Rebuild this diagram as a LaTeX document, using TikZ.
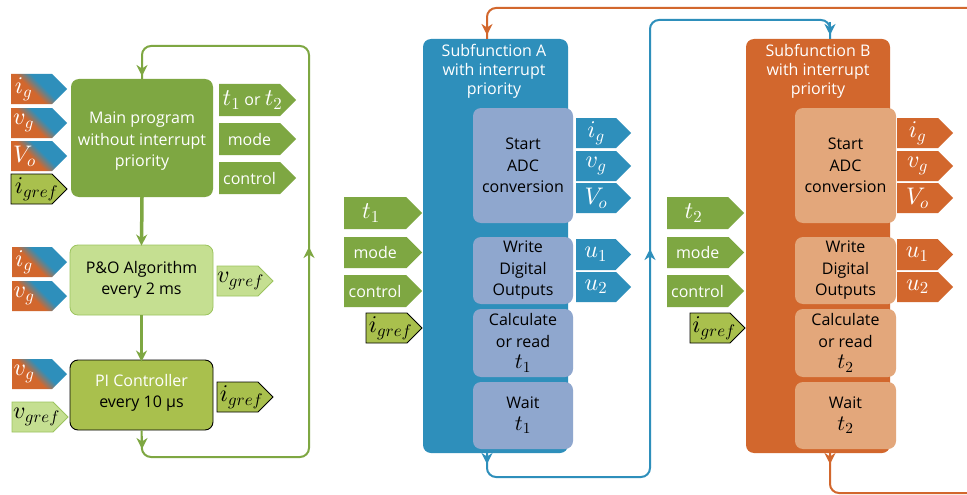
\documentclass[tikz,border=0pt]{standalone}
\usepackage[no-math]{fontspec}
\setmainfont{Open Sans}
\DeclareFontShape{OML}{cmm}{m}{it}{<-> cmmi10}{\skewchar\font'177}
\DeclareFontShape{OT1}{cmr}{m}{n}{<-> cmr10}{}
\DeclareFontShape{OMS}{cmsy}{m}{n}{<-> cmsy10}{\skewchar\font'060}
\usetikzlibrary{arrows.meta}
\definecolor{cgreen}{HTML}{7EA742}
\definecolor{clight}{HTML}{C5DF91}
\definecolor{clightb}{HTML}{9CC45E}
\definecolor{colive}{HTML}{A9C04D}
\definecolor{cblue}{HTML}{2E8FBB}
\definecolor{cperi}{HTML}{8FA7CE}
\definecolor{corange}{HTML}{D2672D}
\definecolor{clorange}{HTML}{E3A77B}
\pgfdeclarehorizontalshading{ogb}{100bp}{color(0bp)=(corange); color(45bp)=(corange); color(54bp)=(cblue); color(100bp)=(cblue)}
% #1 name, #2 x, #3 y, #4 w, #5 h, #6 shape style, #7 text style, #8 x offset, #9 text
\newcommand\mytag[9]{%
  \path[#6] (#2,#3) -- ({#2+#4-#5/2},#3) -- ({#2+#4},{#3+#5/2}) -- ({#2+#4-#5/2},{#3+#5}) -- (#2,{#3+#5}) -- cycle;
  \node[tagtext,#7] (#1) at ({#2+(#4-#5/2)/2+#8},{#3+#5/2}) {#9};
}
\tikzset{
  tagtext/.style={inner sep=0pt, text=white, font=\fontsize{16}{19}\selectfont},
  tmath/.style={font=\fontsize{24}{26}\selectfont},
  gradtag/.style={path picture={\shade[shading=ogb, shading angle=45] ([shift={(-30pt,-30pt)}]path picture bounding box.center) rectangle ++(60pt,60pt);}},
  greentag/.style={fill=cgreen},
  bluetag/.style={fill=cblue},
  orangetag/.style={fill=corange},
  olivetag/.style={fill=colive, draw=black, line width=0.9pt},
  lighttag/.style={fill=clight, draw=clightb, line width=0.8pt},
  blacktext/.style={text=black},
  bigbox/.style={rounded corners=8pt, minimum width=143pt, minimum height=70pt, align=center, font=\fontsize{16}{21.5}\selectfont, inner sep=0pt},
  mainbox/.style={bigbox, fill=cgreen, minimum height=118pt, minimum width=142pt},
  boxtext/.style={align=center, font=\fontsize{16}{21.5}\selectfont, inner sep=0pt},
  pobox/.style={bigbox, fill=clight, draw=clightb, line width=0.8pt, text=black},
  pibox/.style={bigbox, fill=colive, draw=black, line width=0.9pt, text=black},
  subbox/.style={rounded corners=8pt, minimum width=145pt, minimum height=414pt, inner sep=0pt},
  titletext/.style={align=center, text=white, font=\fontsize{16}{19}\selectfont, inner sep=0pt},
  innerbox/.style={rounded corners=8pt, minimum width=100pt, align=center, text=black, font=\fontsize{16}{21.5}\selectfont, inner sep=0pt},
  tip/.style={-{Stealth[length=11pt,width=11pt,inset=3.5pt]}},
  gloop/.style={draw=cgreen, line width=2pt},
  gthick/.style={draw=cgreen, line width=3.5pt},
  bloop/.style={draw=cblue, line width=2pt},
  oloop/.style={draw=corange, line width=2pt},
}
\newcommand\tm[1]{{\fontsize{22}{22}\selectfont$#1$}}
\newcommand\tmb[1]{{\fontsize{24}{26}\selectfont$#1$}}
\begin{document}
\begin{tikzpicture}[x=1pt,y=-1pt]
\fill[white] (0,0) rectangle (967,495);
\useasboundingbox (0,0) rectangle (967,495);

% ---------- left column ----------
\node[mainbox] (main) at (142,138) {};
\node[boxtext, text=white] (maintext) at (142,141.5) {Main program\\without interrupt\\priority};
\node[pobox] (PO) at (141.5,280) {P\&O Algorithm\\every 2 ms};
\node[pibox] (PI) at (141.5,395) {};
\node[boxtext, text=black] (PItext) at (141.5,393) {{\color{white}PI Controller}\\every 10 µs};

\draw[gthick, tip] (main.south) -- ([yshift=-1pt]PO.north);
\draw[gthick, tip] (PO.south) -- ([yshift=-2pt]PI.north);

\draw[gloop, rounded corners=9pt] (PI.south) -- (142,457) -- (309,457) -- (309,46) -- (142,46) -- (main.north);
\draw[gloop, tip] (142,436) -- (142,449);
\draw[gloop, tip] (309,262) -- (309,247);
\draw[gloop, tip] (142,62) -- (142,76);

\mytag{lig}{11}{74}{56}{30}{gradtag}{tmath}{-8}{$i_g$}
\mytag{lvg}{11}{108}{56}{30}{gradtag}{tmath}{-8}{$v_g$}
\mytag{lVo}{11}{141}{56}{30}{gradtag}{tmath}{-7}{$V_o$}
\mytag{ligref}{11}{174}{56}{30}{olivetag}{tmath,blacktext}{5}{$i_{gref}$}

\mytag{mt}{219}{84}{77}{32}{greentag}{}{3}{\tmb{t_1} or \tmb{t_2}}
\mytag{mmode}{219}{123}{77}{32}{greentag}{}{0}{mode}
\mytag{mcontrol}{219}{162}{77}{32}{greentag}{}{0}{control}

\mytag{pig}{12}{247}{55}{30}{gradtag}{tmath}{-8}{$i_g$}
\mytag{pvg}{12}{281}{55}{30}{gradtag}{tmath}{-8}{$v_g$}
\mytag{pvgref}{217}{266}{56}{30}{lighttag}{tmath,blacktext}{3}{$v_{gref}$}

\mytag{cvg}{12}{359}{55}{30}{gradtag}{tmath}{-8}{$v_g$}
\mytag{cvgref}{12}{402}{56}{30}{lighttag}{tmath,blacktext}{4}{$v_{gref}$}
\mytag{cigref}{217}{382}{56}{30}{olivetag}{tmath,blacktext}{4}{$i_{gref}$}

% ---------- Subfunction A ----------
\node[subbox, fill=cblue] (A) at (495.5,246) {};
\node[titletext] (Atitle) at (494,71) {Subfunction A\\with interrupt\\priority};
\node[innerbox, fill=cperi, minimum height=115pt] (Aadc) at (523,165.5) {Start\\ADC\\conversion};
\node[innerbox, fill=cperi, minimum height=67pt] (Awrite) at (523,270.5) {Write\\Digital\\Outputs};
\node[innerbox, fill=cperi, minimum height=68pt] (Acalc) at (523,343) {Calculate\\or read\\\tm{t_1}};
\node[innerbox, fill=cperi, minimum height=67pt] (Await) at (523,415.5) {Wait\\\tm{t_1}};

\mytag{At}{344}{197}{78}{32}{greentag}{tmath}{-4}{$t_1$}
\mytag{Amode}{344}{237}{78}{31}{greentag}{}{0}{mode}
\mytag{Acontrol}{344}{275}{78}{32}{greentag}{}{0}{control}
\mytag{Aigref}{366}{313}{56}{30}{olivetag}{tmath,blacktext}{4}{$i_{gref}$}
\mytag{Aig}{576}{118}{55}{30}{bluetag}{tmath}{0}{$i_g$}
\mytag{Avg}{576}{151}{55}{30}{bluetag}{tmath}{0}{$v_g$}
\mytag{AVo}{576}{183}{55}{30}{bluetag}{tmath}{0}{$V_o$}
\mytag{Au1}{576}{239}{55}{31}{bluetag}{tmath}{0}{$u_1$}
\mytag{Au2}{576}{272}{55}{30}{bluetag}{tmath}{0}{$u_2$}

% ---------- Subfunction B ----------
\node[subbox, fill=corange, minimum width=144pt] (B) at (818,246) {};
\node[titletext] (Btitle) at (818,71) {Subfunction B\\with interrupt\\priority};
\node[innerbox, fill=clorange, minimum width=101pt, minimum height=115pt] (Badc) at (845.5,165.5) {Start\\ADC\\conversion};
\node[innerbox, fill=clorange, minimum width=101pt, minimum height=67pt] (Bwrite) at (845.5,270.5) {Write\\Digital\\Outputs};
\node[innerbox, fill=clorange, minimum width=101pt, minimum height=68pt] (Bcalc) at (845.5,343) {Calculate\\or read\\\tm{t_2}};
\node[innerbox, fill=clorange, minimum width=101pt, minimum height=67pt] (Bwait) at (845.5,415.5) {Wait\\\tm{t_2}};

\mytag{Bt}{667}{197}{77}{32}{greentag}{tmath}{-4}{$t_2$}
\mytag{Bmode}{667}{237}{77}{31}{greentag}{}{0}{mode}
\mytag{Bcontrol}{667}{275}{77}{32}{greentag}{}{0}{control}
\mytag{Bigref}{690}{313}{55}{30}{olivetag}{tmath,blacktext}{4}{$i_{gref}$}
\mytag{Big}{897}{118}{56}{30}{orangetag}{tmath}{0}{$i_g$}
\mytag{Bvg}{897}{151}{56}{30}{orangetag}{tmath}{0}{$v_g$}
\mytag{BVo}{897}{183}{56}{30}{orangetag}{tmath}{0}{$V_o$}
\mytag{Bu1}{897}{239}{56}{31}{orangetag}{tmath}{0}{$u_1$}
\mytag{Bu2}{897}{272}{56}{30}{orangetag}{tmath}{0}{$u_2$}

% ---------- loops ----------
\draw[oloop, rounded corners=9pt] ([xshift=12pt]B.south) -- (830,493) -- (990,493) -- (990,8) -- (487,8) -- ([xshift=-8.5pt]A.north);
\draw[oloop, tip] (830,451) -- (830,464);
\draw[oloop, tip] (487,21) -- (487,35);

\draw[bloop, rounded corners=9pt] ([xshift=-8.5pt]A.south) -- (487,477) -- (650,477) -- (650,20) -- (830,20) -- ([xshift=12pt]B.north);
\draw[bloop, tip] (487,451) -- (487,464);
\draw[bloop, tip] (650,263) -- (650,249);
\draw[bloop, tip] (830,22) -- (830,35);
\end{tikzpicture}
\end{document}
